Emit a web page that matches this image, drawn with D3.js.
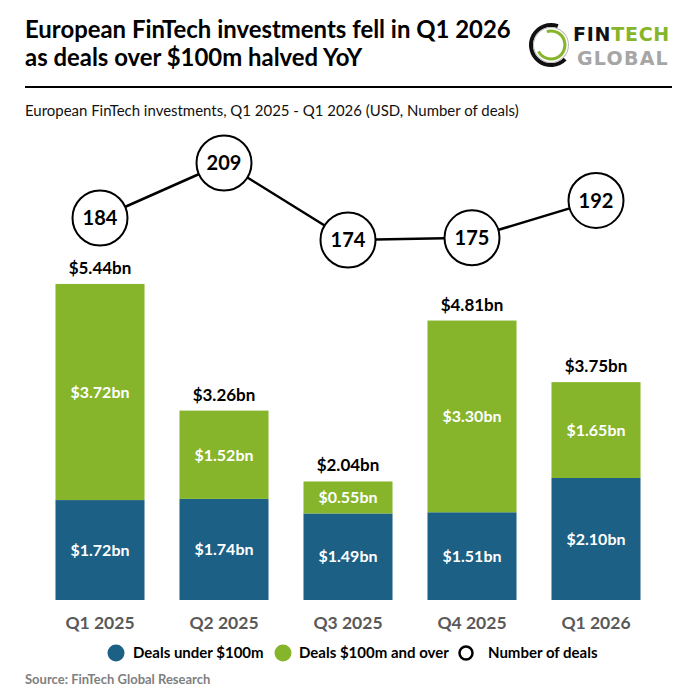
<!DOCTYPE html>
<html><head><meta charset="utf-8">
<script src="https://cdn.jsdelivr.net/npm/d3@7"></script>
<style>body{margin:0;background:#fff}svg{display:block}</style>
</head><body>
<script>
const categories = ["Q1 2025","Q2 2025","Q3 2025","Q4 2025","Q1 2026"];
const dealsUnder = [1.72,1.74,1.49,1.51,2.10];
const dealsOver = [3.72,1.52,0.55,3.30,1.65];
const totals = [5.44,3.26,2.04,4.81,3.75];
const dealCounts = [184,209,174,175,192];
const legendLabels = ["Deals under $100m","Deals $100m and over","Number of deals"];

const W=696,H=696;
const FONT="Lato, 'Open Sans', sans-serif";
const BLUE="#1c6085", GREEN="#86b52b";
const svg=d3.select("body").append("svg").attr("width",W).attr("height",H).style("font-family",FONT);
svg.append("rect").attr("width",W).attr("height",H).attr("fill","#fff");

function fit(t,target){const n=t.node();let fs=parseFloat(t.attr("font-size"));const w=n.getComputedTextLength();t.attr("font-size",(fs*target/w).toFixed(2));}
function spread(t,target){const n=t.node();const w=n.getComputedTextLength();const k=t.text().length;t.attr("letter-spacing",((target-w)/k).toFixed(2));}

// Title
const t1=svg.append("text").attr("x",25).attr("y",38).attr("font-size",22).attr("font-weight",700).attr("fill","#000").text("European FinTech investments fell in Q1 2026");
fit(t1,486);
const t2=svg.append("text").attr("x",25).attr("y",66).attr("font-size",t1.attr("font-size")).attr("font-weight",700).attr("fill","#000").text("as deals over $100m halved YoY");
svg.append("line").attr("x1",25).attr("x2",672).attr("y1",87).attr("y2",87).attr("stroke","#000").attr("stroke-width",2.2);
const st=svg.append("text").attr("x",25).attr("y",116).attr("font-size",14.5).attr("fill","#111").text("European FinTech investments, Q1 2025 - Q1 2026 (USD, Number of deals)");
fit(st,494);

// Logo
const lg=svg.append("g").attr("transform","translate(551,45)");
const arc=d3.arc();
lg.append("path").attr("d",arc({innerRadius:18,outerRadius:22,startAngle:0.35,endAngle:-Math.PI*1.25})).attr("fill","#111");
lg.append("path").attr("d",arc({innerRadius:17,outerRadius:18,startAngle:0,endAngle:Math.PI*2})).attr("fill","#bbb");
lg.append("path").attr("d",arc({innerRadius:12.5,outerRadius:15.5,startAngle:-0.3,endAngle:Math.PI*1.35})).attr("fill",GREEN);
const LF="'DejaVu Sans', sans-serif";
const LS=19;
const lf=svg.append("text").attr("x",573).attr("y",41).attr("font-size",LS).attr("font-weight",700).attr("font-family",LF).attr("fill","#111").text("FIN");
const lfw=lf.node().getComputedTextLength();
const lt=svg.append("text").attr("x",573+lfw).attr("y",41).attr("font-size",LS).attr("font-weight",700).attr("font-family",LF).attr("fill",GREEN).text("TECH");
const ltw=lt.node().getComputedTextLength();
const ls=(97-lfw-ltw)/7;
lf.attr("letter-spacing",ls.toFixed(2));
lt.attr("x",573+lfw+3*ls).attr("letter-spacing",ls.toFixed(2));
const lt2=svg.append("text").attr("x",577).attr("y",65).attr("font-size",LS).attr("font-weight",700).attr("font-family",LF).attr("fill","#a6a6a6").text("GLOBAL");
spread(lt2,92);

// Scales
const x=d3.scaleBand().domain(categories).range([38,658]).paddingInner(0.282).paddingOuter(0.141);
const y=d3.scaleLinear().domain([0,6]).range([600,600-6*58.1]);
const yd=d3.scaleLinear().domain([150,220]).range([292.8,138.8]);

const g=svg.append("g");
g.selectAll(".under").data(categories).join("rect")
 .attr("x",d=>x(d)).attr("width",x.bandwidth())
 .attr("y",(d,i)=>y(dealsUnder[i])).attr("height",(d,i)=>y(0)-y(dealsUnder[i])).attr("fill",BLUE);
g.selectAll(".over").data(categories).join("rect")
 .attr("x",d=>x(d)).attr("width",x.bandwidth())
 .attr("y",(d,i)=>y(dealsUnder[i]+dealsOver[i])).attr("height",(d,i)=>y(dealsUnder[i])-y(dealsUnder[i]+dealsOver[i])).attr("fill",GREEN);
const cx=d=>x(d)+x.bandwidth()/2;
g.selectAll(".ul").data(categories).join("text").attr("x",cx)
 .attr("y",(d,i)=>(y(0)+y(dealsUnder[i]))/2).attr("dy","0.36em").attr("text-anchor","middle")
 .attr("fill","#fff").attr("font-weight",700).attr("font-size",16).text((d,i)=>"$"+dealsUnder[i].toFixed(2)+"bn");
g.selectAll(".ol").data(categories).join("text").attr("x",cx)
 .attr("y",(d,i)=>(y(dealsUnder[i])+y(dealsUnder[i]+dealsOver[i]))/2).attr("dy","0.36em").attr("text-anchor","middle")
 .attr("fill","#fff").attr("font-weight",700).attr("font-size",16).text((d,i)=>"$"+dealsOver[i].toFixed(2)+"bn");
g.selectAll(".tl").data(categories).join("text").attr("x",cx)
 .attr("y",(d,i)=>y(totals[i])-10).attr("text-anchor","middle")
 .attr("fill","#000").attr("font-weight",700).attr("font-size",17).text((d,i)=>"$"+totals[i].toFixed(2)+"bn");

// x axis labels
const xa=svg.append("g").attr("transform","translate(0,611)").call(d3.axisBottom(x).tickSize(0).tickPadding(0));
xa.select(".domain").remove();
xa.selectAll("text").attr("font-family",FONT).attr("font-size",17.5).attr("font-weight",700).attr("fill","#595959").attr("dy","1.0em");

// line
const line=d3.line().x(d=>cx(d)).y((d,i)=>yd(dealCounts[i]));
svg.append("path").attr("d",line(categories)).attr("fill","none").attr("stroke","#000").attr("stroke-width",2.5);
const cg=svg.selectAll(".c").data(categories).join("g").attr("transform",(d,i)=>`translate(${cx(d)},${yd(dealCounts[i])})`);
cg.append("circle").attr("r",27.5).attr("fill","#fff").attr("stroke","#000").attr("stroke-width",2);
cg.append("text").attr("text-anchor","middle").attr("dy","0.36em").attr("font-weight",700).attr("font-size",20).text((d,i)=>dealCounts[i]);

// legend
const leg=[{x:116,fill:BLUE,stroke:"none",r:8.5,tx:133},{x:283,fill:GREEN,stroke:"none",r:8.5,tx:299},{x:466,fill:"#fff",stroke:"#000",r:6.5,tx:488}];
leg.forEach((l,i)=>{
 svg.append("circle").attr("cx",l.x).attr("cy",653).attr("r",l.r).attr("fill",l.fill).attr("stroke",l.stroke).attr("stroke-width",2.5);
 svg.append("text").attr("x",l.tx).attr("y",658).attr("font-size",15).attr("font-weight",700).attr("fill","#000").text(legendLabels[i]);
});
svg.append("text").attr("x",25).attr("y",684).attr("font-size",13).attr("font-weight",700).attr("fill","#7f7f7f").text("Source: FinTech Global Research");
</script>
</body></html>
